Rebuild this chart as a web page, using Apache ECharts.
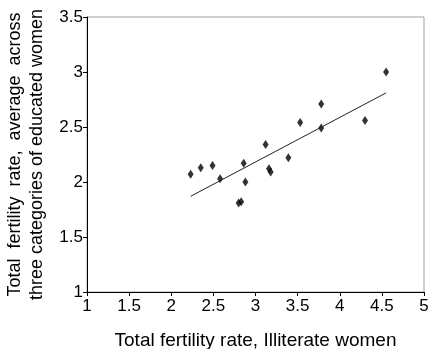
<!DOCTYPE html>
<html>
<head>
<meta charset="utf-8">
<script src="https://cdn.jsdelivr.net/npm/echarts@6/dist/echarts.min.js"></script>
<style>html,body{margin:0;padding:0;background:#fff}#c{width:430px;height:349px}</style>
</head>
<body>
<div id="c"></div>
<script>
var illiterateTFR = [2.23, 2.35, 2.49, 2.58, 2.86, 2.88, 2.80, 2.83, 3.12, 3.16, 3.18, 3.39, 3.53, 3.78, 3.78, 4.30, 4.55];
var educatedTFR   = [2.07, 2.13, 2.15, 2.03, 2.17, 2.00, 1.81, 1.82, 2.34, 2.12, 2.09, 2.22, 2.54, 2.71, 2.49, 2.56, 3.00];
var trendX = [2.23, 4.55];
var trendY = [1.87, 2.81];
var xTicks = [1, 1.5, 2, 2.5, 3, 3.5, 4, 4.5, 5];
var yTicks = [1, 1.5, 2, 2.5, 3, 3.5];

var pts = illiterateTFR.map(function (x, i) { return [x, educatedTFR[i]]; });
var line = trendX.map(function (x, i) { return [x, trendY[i]]; });
var font = 'Liberation Sans, Arial, sans-serif';

var chart = echarts.init(document.getElementById('c'));
chart.setOption({
  animation: false,
  grid: { left: 87, right: 6, top: 17, bottom: 57, show: true, borderColor: '#a0a0a0', borderWidth: 1,
          containLabel: false, outerBoundsMode: 'none' },
  xAxis: {
    type: 'value', min: xTicks[0], max: xTicks[xTicks.length - 1], interval: 0.5,
    name: 'Total fertility rate, Illiterate women', nameLocation: 'middle', nameGap: 38,
    nameTextStyle: { fontFamily: font, fontSize: 19, color: '#000', lineHeight: 22 },
    axisLine: { lineStyle: { color: '#000', width: 1 } },
    axisTick: { show: true, length: 4, lineStyle: { color: '#000' } },
    axisLabel: { fontFamily: font, fontSize: 17, color: '#000', margin: 6 },
    splitLine: { show: false }
  },
  yAxis: {
    type: 'value', min: yTicks[0], max: yTicks[yTicks.length - 1], interval: 0.5,
    name: 'Total  fertility  rate,  average  across\nthree categories of educated women', nameLocation: 'middle', nameGap: 37, nameRotate: 90,
    nameTextStyle: { fontFamily: font, fontSize: 18, color: '#000', lineHeight: 22 },
    axisLine: { show: true, lineStyle: { color: '#000', width: 1 } },
    axisTick: { show: true, length: 4, lineStyle: { color: '#000' } },
    axisLabel: { fontFamily: font, fontSize: 17, color: '#000', margin: 4 },
    splitLine: { show: false }
  },
  series: [
    {
      type: 'line', data: line, symbol: 'none', silent: true,
      lineStyle: { color: '#222', width: 1 }
    },
    {
      type: 'scatter', data: pts, symbol: 'diamond', symbolSize: [6, 9],
      itemStyle: { color: '#000' }
    }
  ]
});
</script>
</body>
</html>
